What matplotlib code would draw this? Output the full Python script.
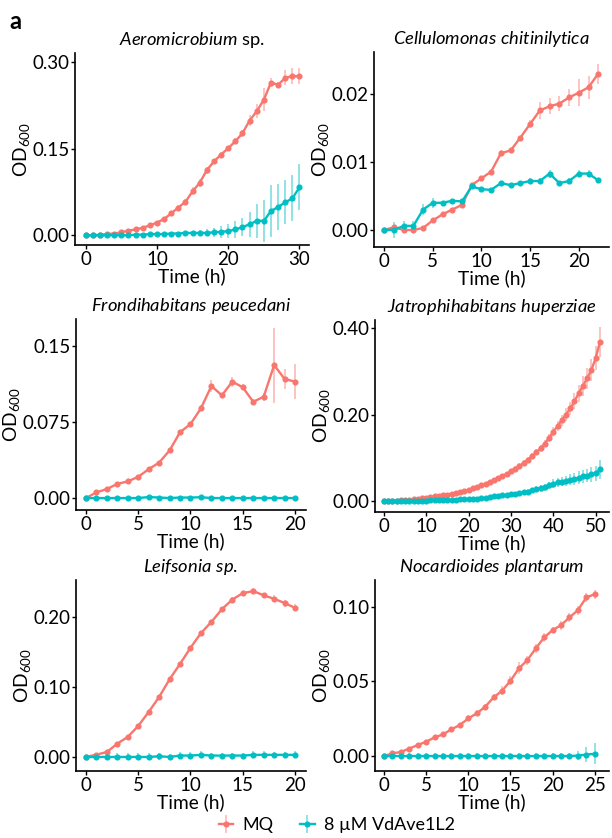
import matplotlib
matplotlib.use("Agg")
import matplotlib.pyplot as plt
from matplotlib.colors import to_rgba

plt.rcParams['font.family'] = ['Lato', 'DejaVu Sans']
plt.rcParams['mathtext.fontset'] = 'custom'
plt.rcParams['mathtext.rm'] = 'Lato'
plt.rcParams['mathtext.it'] = 'Lato:italic'

MQ_COL = '#F8766D'
VD_COL = '#00BFC4'
labels = ['MQ', '8 µM VdAve1L2']

# ---- Aeromicrobium sp. ----
aero_t = list(range(0, 31))
aero_mq = [0.000, 0.000, 0.001, 0.002, 0.003, 0.005, 0.008, 0.010, 0.013, 0.017,
           0.022, 0.028, 0.038, 0.048, 0.058, 0.076, 0.091, 0.113, 0.128, 0.140,
           0.151, 0.163, 0.177, 0.199, 0.215, 0.235, 0.265, 0.261, 0.273, 0.276, 0.276]
aero_mq_sd = [0.001, 0.001, 0.001, 0.001, 0.002, 0.002, 0.002, 0.002, 0.002, 0.002,
              0.003, 0.003, 0.003, 0.004, 0.005, 0.007, 0.007, 0.006, 0.005, 0.004,
              0.004, 0.005, 0.006, 0.010, 0.012, 0.020, 0.007, 0.005, 0.013, 0.014, 0.014]
aero_vd = [0.000, 0.000, 0.000, 0.000, 0.000, 0.000, 0.000, 0.001, 0.001, 0.002,
           0.002, 0.002, 0.003, 0.003, 0.004, 0.004, 0.004, 0.004, 0.005, 0.006,
           0.007, 0.010, 0.014, 0.019, 0.025, 0.025, 0.042, 0.049, 0.057, 0.064, 0.083]
aero_vd_sd = [0.001, 0.001, 0.001, 0.001, 0.001, 0.002, 0.002, 0.002, 0.002, 0.002,
              0.002, 0.003, 0.003, 0.003, 0.003, 0.004, 0.005, 0.006, 0.008, 0.010,
              0.012, 0.014, 0.016, 0.022, 0.030, 0.036, 0.045, 0.040, 0.038, 0.040, 0.040]

# ---- Cellulomonas chitinilytica ----
cell_t = list(range(0, 23))
cell_mq = [0.0000, 0.0004, 0.0000, 0.0000, 0.0003, 0.0014, 0.0023, 0.0030, 0.0037, 0.0066,
           0.0076, 0.0086, 0.0113, 0.0117, 0.0136, 0.0156, 0.0176, 0.0182, 0.0186, 0.0195,
           0.0202, 0.0210, 0.0230]
cell_mq_sd = [0.0002, 0.0003, 0.0002, 0.0002, 0.0003, 0.0002, 0.0003, 0.0002, 0.0003, 0.0003,
              0.0003, 0.0003, 0.0004, 0.0004, 0.0003, 0.0006, 0.0012, 0.0012, 0.0011, 0.0012,
              0.0020, 0.0017, 0.0015]
cell_vd = [0.0000, 0.0000, 0.0006, 0.0006, 0.0030, 0.0040, 0.0040, 0.0043, 0.0042, 0.0064,
           0.0060, 0.0059, 0.0069, 0.0066, 0.0069, 0.0072, 0.0072, 0.0083, 0.0069, 0.0072,
           0.0083, 0.0083, 0.0073]
cell_vd_sd = [0.0002, 0.0012, 0.0007, 0.0007, 0.0008, 0.0007, 0.0003, 0.0002, 0.0004, 0.0003,
              0.0002, 0.0003, 0.0003, 0.0003, 0.0003, 0.0004, 0.0004, 0.0006, 0.0003, 0.0004,
              0.0005, 0.0005, 0.0004]

# ---- Frondihabitans peucedani ----
fron_t = list(range(0, 21))
fron_mq = [0.000, 0.0056, 0.0089, 0.014, 0.0164, 0.021, 0.0285, 0.035, 0.047, 0.065,
           0.073, 0.0886, 0.1106, 0.1014, 0.1149, 0.1093, 0.095, 0.100, 0.1313, 0.1175, 0.1149]
fron_mq_sd = [0.0005, 0.001, 0.001, 0.001, 0.001, 0.001, 0.001, 0.001, 0.002, 0.002,
              0.002, 0.003, 0.006, 0.002, 0.005, 0.003, 0.003, 0.004, 0.037, 0.010, 0.017]
fron_vd = [0.000, 0.000, 0.000, 0.000, 0.000, 0.000, 0.0010, 0.0005, 0.000, 0.0005,
           0.0005, 0.0008, 0.000, 0.000, 0.000, 0.000, 0.000, 0.000, 0.000, 0.000, 0.000]
fron_vd_sd = [0.0005, 0.0015, 0.0015, 0.001, 0.001, 0.0005, 0.001, 0.001, 0.0015, 0.001,
              0.001, 0.001, 0.0005, 0.0005, 0.0005, 0.0005, 0.0005, 0.0005, 0.0005, 0.0005, 0.0005]

# ---- Jatrophihabitans huperziae ----
jatr_t = list(range(0, 52))
jatr_mq = [0.000, 0.000, 0.001, 0.001, 0.002, 0.002, 0.003, 0.004, 0.005, 0.006,
           0.008, 0.009, 0.011, 0.012, 0.014, 0.015, 0.017, 0.019, 0.021, 0.023,
           0.026, 0.029, 0.032, 0.036, 0.040, 0.044, 0.048, 0.053, 0.058, 0.063,
           0.069, 0.075, 0.081, 0.088, 0.096, 0.104, 0.113, 0.122, 0.133, 0.146,
           0.160, 0.173, 0.187, 0.200, 0.214, 0.231, 0.249, 0.266, 0.284, 0.303,
           0.330, 0.367]
jatr_mq_sd = [0.002, 0.002, 0.002, 0.002, 0.002, 0.002, 0.002, 0.002, 0.002, 0.002,
              0.002, 0.002, 0.002, 0.002, 0.002, 0.002, 0.002, 0.002, 0.003, 0.003,
              0.003, 0.003, 0.003, 0.003, 0.004, 0.004, 0.004, 0.004, 0.005, 0.005,
              0.005, 0.005, 0.006, 0.006, 0.006, 0.007, 0.007, 0.008, 0.009, 0.010,
              0.011, 0.012, 0.013, 0.014, 0.016, 0.018, 0.020, 0.022, 0.024, 0.026,
              0.028, 0.035]
jatr_vd = [0.000, 0.000, 0.000, 0.000, 0.000, 0.0005, 0.001, 0.001, 0.001, 0.001,
           0.001, 0.0015, 0.002, 0.002, 0.002, 0.003, 0.003, 0.003, 0.004, 0.004,
           0.005, 0.005, 0.005, 0.006, 0.006, 0.010, 0.011, 0.012, 0.013, 0.014,
           0.016, 0.017, 0.018, 0.020, 0.022, 0.025, 0.028, 0.030, 0.032, 0.036,
           0.040, 0.043, 0.045, 0.047, 0.049, 0.051, 0.054, 0.057, 0.059, 0.062,
           0.064, 0.073]
jatr_vd_sd = [0.002, 0.002, 0.002, 0.002, 0.002, 0.002, 0.002, 0.002, 0.002, 0.002,
              0.002, 0.002, 0.002, 0.002, 0.002, 0.002, 0.002, 0.002, 0.002, 0.002,
              0.002, 0.002, 0.003, 0.003, 0.003, 0.003, 0.003, 0.003, 0.004, 0.004,
              0.004, 0.005, 0.005, 0.005, 0.006, 0.006, 0.007, 0.008, 0.008, 0.009,
              0.010, 0.011, 0.011, 0.012, 0.013, 0.014, 0.015, 0.015, 0.016, 0.017,
              0.017, 0.023]

# ---- Leifsonia sp. ----
leif_t = list(range(0, 21))
leif_mq = [0.000, 0.0033, 0.007, 0.019, 0.0286, 0.0443, 0.0643, 0.0857, 0.111, 0.133,
           0.156, 0.177, 0.193, 0.211, 0.225, 0.234, 0.237, 0.231, 0.226, 0.220, 0.213]
leif_mq_sd = [0.001, 0.002, 0.002, 0.002, 0.002, 0.002, 0.002, 0.002, 0.003, 0.003,
              0.003, 0.003, 0.003, 0.003, 0.003, 0.003, 0.004, 0.004, 0.005, 0.005, 0.005]
leif_vd = [0.000, 0.000, 0.000, 0.000, 0.000, 0.000, 0.000, 0.001, 0.000, 0.002,
           0.002, 0.003, 0.002, 0.002, 0.002, 0.002, 0.003, 0.003, 0.003, 0.003, 0.003]
leif_vd_sd = [0.002, 0.004, 0.004, 0.005, 0.005, 0.005, 0.005, 0.005, 0.004, 0.005,
              0.005, 0.005, 0.003, 0.004, 0.004, 0.004, 0.005, 0.005, 0.004, 0.004, 0.005]

# ---- Nocardioides plantarum ----
noca_t = list(range(0, 26))
noca_mq = [0.000, 0.0018, 0.0027, 0.005, 0.0074, 0.0096, 0.0125, 0.0145, 0.0179, 0.0208,
           0.0252, 0.0286, 0.033, 0.0393, 0.0437, 0.0504, 0.0587, 0.0643, 0.0721, 0.0795,
           0.0844, 0.0877, 0.0929, 0.0978, 0.1063, 0.1085]
noca_mq_sd = [0.0005, 0.001, 0.001, 0.001, 0.001, 0.001, 0.001, 0.001, 0.001, 0.001,
              0.002, 0.002, 0.002, 0.002, 0.003, 0.003, 0.004, 0.003, 0.003, 0.003,
              0.002, 0.003, 0.003, 0.003, 0.003, 0.003]
noca_vd = [0.000, 0.000, 0.000, 0.000, 0.000, 0.000, 0.000, 0.000, 0.000, 0.000,
           0.000, 0.000, 0.000, 0.000, 0.000, 0.000, 0.000, 0.000, 0.000, 0.000,
           0.000, 0.000, 0.000, 0.0003, 0.0010, 0.0015]
noca_vd_sd = [0.0005, 0.002, 0.002, 0.002, 0.002, 0.002, 0.002, 0.002, 0.002, 0.002,
              0.002, 0.002, 0.002, 0.002, 0.002, 0.002, 0.002, 0.002, 0.002, 0.002,
              0.002, 0.002, 0.002, 0.003, 0.005, 0.007]


panels = [
    (r'$\mathit{Aeromicrobium}$ sp.', aero_t, aero_mq, aero_mq_sd, aero_vd, aero_vd_sd,
     [0, 10, 20, 30], [0.00, 0.15, 0.30], ['0.00', '0.15', '0.30'],
     (-1.5, 31.3), (-0.017, 0.316), [0.1225, 0.7076, 0.382, 0.229]),
    (r'$\mathit{Cellulomonas\ chitinilytica}$', cell_t, cell_mq, cell_mq_sd, cell_vd, cell_vd_sd,
     [0, 5, 10, 15, 20], [0.00, 0.01, 0.02], ['0.00', '0.01', '0.02'],
     (-1.05, 23.1), (-0.0025, 0.0262), [0.611, 0.7053, 0.384, 0.2327]),
    (r'$\mathit{Frondihabitans\ peucedani}$', fron_t, fron_mq, fron_mq_sd, fron_vd, fron_vd_sd,
     [0, 5, 10, 15, 20], [0.00, 0.075, 0.15], ['0.00', '0.075', '0.15'],
     (-0.95, 21.0), (-0.0118, 0.1767), [0.1242, 0.3914, 0.375, 0.2279]),
    (r'$\mathit{Jatrophihabitans\ huperziae}$', jatr_t, jatr_mq, jatr_mq_sd, jatr_vd, jatr_vd_sd,
     [0, 10, 20, 30, 40, 50], [0.00, 0.20, 0.40], ['0.00', '0.20', '0.40'],
     (-2.1, 53.1), (-0.0254, 0.4185), [0.6127, 0.389, 0.382, 0.2291]),
    (r'$\mathit{Leifsonia\ sp.}$', leif_t, leif_mq, leif_mq_sd, leif_vd, leif_vd_sd,
     [0, 5, 10, 15, 20], [0.00, 0.10, 0.20], ['0.00', '0.10', '0.20'],
     (-0.95, 21.0), (-0.02, 0.2529), [0.1242, 0.08, 0.375, 0.2279]),
    (r'$\mathit{Nocardioides\ plantarum}$', noca_t, noca_mq, noca_mq_sd, noca_vd, noca_vd_sd,
     [0, 5, 10, 15, 20, 25], [0.00, 0.05, 0.10], ['0.00', '0.05', '0.10'],
     (-1.07, 26.66), (-0.01, 0.118), [0.6127, 0.08, 0.382, 0.2279]),
]

fig = plt.figure(figsize=(6.12, 8.38), dpi=100)

handles = []
for (title, t, mq, mq_sd, vd, vd_sd, xt, yt, ytl, xl, yl, rect) in panels:
    ax = fig.add_axes(rect)
    hs = []
    for y, sd, c in [(mq, mq_sd, MQ_COL), (vd, vd_sd, VD_COL)]:
        h = ax.errorbar(t, y, yerr=sd, color=c, lw=1.7, marker='o', ms=3.4,
                        ecolor=to_rgba(c, 0.55), elinewidth=1.1, capsize=0)
        hs.append(h)
    handles = hs
    ax.set_xlim(*xl)
    ax.set_ylim(*yl)
    ax.set_xticks(xt)
    ax.set_yticks(yt)
    ax.set_yticklabels(ytl)
    ax.spines['top'].set_visible(False)
    ax.spines['right'].set_visible(False)
    ax.spines['left'].set_linewidth(1.2)
    ax.spines['bottom'].set_linewidth(1.2)
    ax.tick_params(direction='out', length=3, width=1, labelsize=13.5, pad=1, colors='black')
    ax.set_title(title, fontsize=13.2, pad=6)
    ax.set_xlabel('Time (h)', fontsize=13.8, labelpad=0)
    ax.set_ylabel(r'OD$_{600}$', fontsize=13.8, labelpad=0)

fig.text(0.015, 0.988, 'a', fontsize=17, fontweight='bold', va='top')

fig.legend(handles, labels, loc='lower center', bbox_to_anchor=(0.55, -0.014), ncol=2,
           frameon=False, fontsize=13, handlelength=0.8, columnspacing=1.5, handletextpad=0.5)

fig.savefig('out.png', dpi=100)
